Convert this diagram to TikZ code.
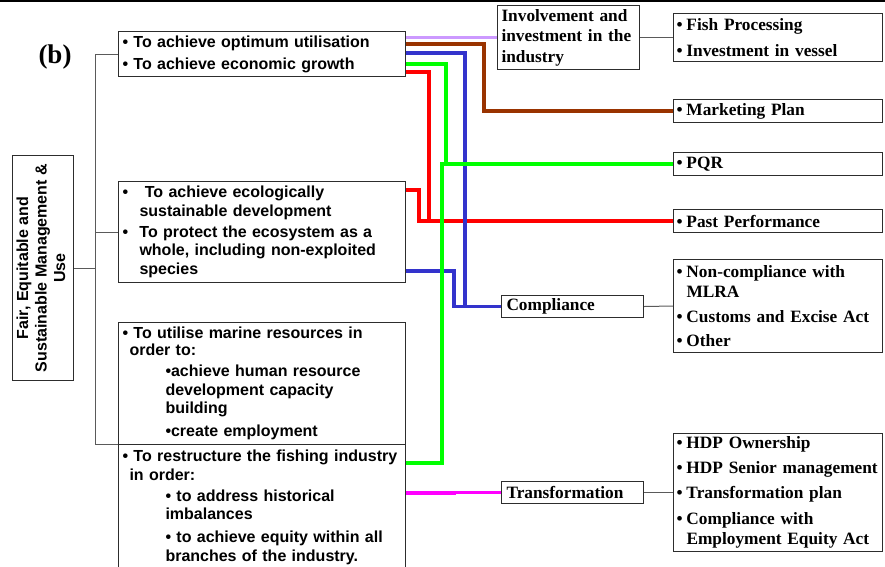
\documentclass[tikz,border=0pt]{standalone}
\usepackage{fontspec}
\setmainfont{Liberation Serif}
\setsansfont{Liberation Sans}
\usepackage{graphicx}
\usepackage{tikz}
\usetikzlibrary{positioning}
\definecolor{lavline}{RGB}{204,153,255}
\definecolor{brownline}{RGB}{153,51,0}
\definecolor{blueline}{RGB}{51,51,204}
\definecolor{greenline}{RGB}{0,255,0}
\definecolor{redline}{RGB}{255,0,0}
\definecolor{magline}{RGB}{255,0,255}
\definecolor{boxgray}{RGB}{45,45,45}
\definecolor{treegray}{RGB}{90,90,90}
\newcommand{\gbul}[1][11pt]{\makebox[#1][l]{\textbullet}}
\newcommand{\cbul}{\makebox[10pt][l]{\textbullet}}

\begin{document}
\begin{tikzpicture}[x=1pt, y=-1pt,
    goal/.style={draw=boxgray, line width=1pt, anchor=north west, inner xsep=4pt, inner ysep=2pt, text width=279pt, align=left, font=\sffamily\bfseries\fontsize{16}{18.5}\selectfont},
    crit/.style={draw=boxgray, line width=1pt, anchor=north west, inner xsep=3pt, inner ysep=1pt, text width=203pt, minimum height=23pt, align=left, font=\bfseries\fontsize{17.3}{20}\selectfont},
    group/.style={crit, text width=132pt, inner xsep=5pt, minimum height=22pt},
    treeline/.style={draw=treegray, line width=1pt},
    joinline/.style={draw=treegray, line width=1pt},
    link/.style={line width=3.5pt}]
      \clip (0,0) rectangle (885,566);
      \draw[line width=1.5pt] (0,0.75) -- (885,0.75);

      \node[font=\bfseries\fontsize{27}{27}\selectfont] (tag) at (55,57) {(b)};

      \node[draw=boxgray, line width=1pt, anchor=north west, inner sep=0pt, minimum width=61pt, minimum height=225pt, font=\sffamily\bfseries\fontsize{16}{18.5}\selectfont] (fair) at (12,155)
        {\rotatebox{90}{\begin{tabular}{@{}c@{}}Fair, Equitable and\\Sustainable Management \&\\Use\end{tabular}}};

      \node[goal, minimum height=45pt] (util) at (118,31)
        {\gbul To achieve optimum utilisation\\[3.5pt] \gbul To achieve economic growth};
      \node[goal, minimum height=101pt] (eco) at (118,181)
        {\gbul[17pt]\ To achieve ecologically\\ \hspace*{17pt}sustainable development\\[2.5pt] \gbul[17pt]To protect the ecosystem as a\\ \hspace*{17pt}whole, including non-exploited\\ \hspace*{17pt}species};
      \node[goal, minimum height=122pt] (marine) at (118,322)
        {\gbul To utilise marine resources in\\[-1.5pt] \hspace*{7pt}order to:\\[2.5pt] \hspace*{43pt}\textbullet achieve human resource\\ \hspace*{43pt}development capacity\\ \hspace*{43pt}building\\[4.5pt] \hspace*{43pt}\textbullet create employment};
      \node[goal, minimum height=126pt] (restr) at (118,444)
        {\gbul To restructure the fishing industry\\ \hspace*{7pt}in order:\\[2.5pt] \hspace*{43pt}\textbullet\ to address historical\\ \hspace*{43pt}imbalances\\[4.5pt] \hspace*{43pt}\textbullet\ to achieve equity within all\\ \hspace*{43pt}branches of the industry.};

      \coordinate (trunk) at (95,0);
      \draw[treeline] (fair.east) -- (trunk |- fair.east);
      \draw[treeline] (trunk |- util.west) -- (trunk |- restr.north west);
      \draw[treeline] (trunk |- util.west) -- (util.west);
      \draw[treeline] (trunk |- eco.west) -- (eco.west);
      \draw[treeline] (trunk |- restr.north west) -- (restr.north west);

      \node[crit, text width=134pt, inner xsep=4pt, minimum height=64pt] (involve) at (497,5)
        {Involvement and\\[0.5pt] investment in the\\[0.5pt] industry};
      \node[group] (comply) at (501,295) {Compliance};
      \node[group] (transf) at (501,481) {Transformation};

      \node[crit, minimum height=48pt] (fishinv) at (673,13)
        {\cbul Fish Processing\\[6pt] \cbul Investment in vessel};
      \node[crit] (market) at (673,99) {\cbul Marketing Plan};
      \node[crit] (pqr) at (673,152) {\cbul PQR};
      \node[crit] (past) at (673,209) {\cbul Past Performance};
      \node[crit, minimum height=93pt] (noncomp) at (673,259)
        {\cbul Non-compliance with\\ \hspace*{10pt}MLRA\\[5pt] \cbul Customs and Excise Act\\[4pt] \cbul Other};
      \node[crit, minimum height=118pt] (hdp) at (673,433)
        {\cbul HDP Ownership\\[5pt] \cbul HDP Senior management\\[5pt] \cbul Transformation plan\\[6pt] \cbul Compliance with\\ \hspace*{10pt}Employment Equity Act};

      \draw[joinline] (involve.east) -- (fishinv.west);
      \draw[joinline] (comply.east) -- (noncomp.west);
      \draw[joinline] (transf.east) -- (hdp.west);

      % objectives to criteria
      \draw[link, redline] ([yshift=-41pt]util.north east) -- ++(23,0) |- (past.west);
      \draw[link, redline] ([yshift=-9pt]eco.north east) -- ++(13,0) |- (past.west);
      \draw[link, blueline] ([yshift=-22pt]util.north east) -- ++(59,0) |- (comply.west);
      \draw[link, blueline] ([yshift=-90pt]eco.north east) -- ++(48,0) |- (comply.west);
      \draw[link, greenline] ([yshift=-33pt]util.north east) -- ++(40,0) |- (pqr.west);
      \draw[link, greenline] ([yshift=-19pt]restr.north east) -- ++(36,0) |- (pqr.west);
      \draw[link, brownline] ([yshift=-13pt]util.north east) -- ++(78,0) |- (market.west);
      \draw[link, lavline] (util.east |- involve.west) -- (involve.west);
      \draw[link, magline] ([yshift=-49pt]restr.north east) -- ++(48,0) |- (transf.west);
    \end{tikzpicture}
\end{document}
